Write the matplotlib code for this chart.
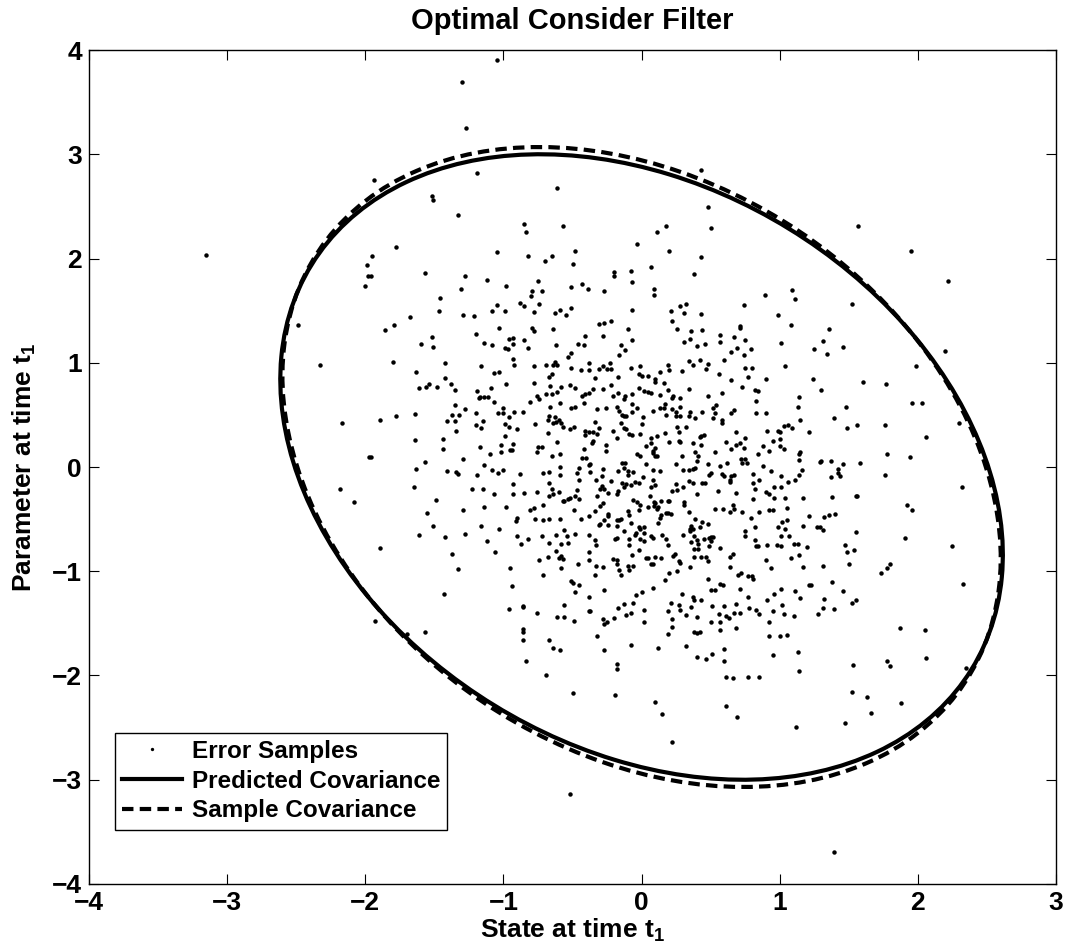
import numpy as np
import matplotlib.pyplot as plt
from matplotlib.patches import Ellipse
from matplotlib.lines import Line2D

plt.rcParams['font.family'] = ['Liberation Sans', 'DejaVu Sans']
plt.rcParams['font.weight'] = 'bold'
plt.rcParams['mathtext.fontset'] = 'custom'
plt.rcParams['mathtext.rm'] = 'Liberation Sans:bold'
plt.rcParams['mathtext.bf'] = 'Liberation Sans:bold'
plt.rcParams['mathtext.it'] = 'Liberation Sans:bold'
plt.rcParams['mathtext.default'] = 'bf'

# error samples (state, parameter)
samples_upper = [
    [-3.15, 2.03], [-1.99, 1.94], [-1.98, 1.83], [-2.00, 1.74], [-2.49, 1.36],
    [-1.05, 3.90], [-1.30, 3.69], [-1.27, 3.25], [-1.19, 2.82], [-1.94, 2.75], [-1.52, 2.60],
    [-1.51, 2.56], [-0.61, 2.68], [-1.33, 2.42], [-0.85, 2.33], [-0.84, 2.25], [-0.57, 2.31],
    [-1.78, 2.11], [-1.95, 2.02], [-1.05, 2.06], [-0.82, 2.02], [-0.48, 2.07], [-0.65, 2.02],
    [-0.70, 1.98], [-0.50, 1.95], [-1.96, 1.83], [-1.57, 1.86], [-1.28, 1.83], [-1.12, 1.79],
    [-1.31, 1.71], [-0.98, 1.74], [-0.75, 1.78], [-0.79, 1.69], [-0.72, 1.69], [-0.80, 1.64],
    [-0.51, 1.73], [-0.43, 1.76], [-0.39, 1.71], [-1.46, 1.62], [-1.47, 1.50], [-1.68, 1.44],
    [-1.79, 1.36], [-1.29, 1.46], [-1.21, 1.45], [-1.05, 1.55], [-1.08, 1.50], [-0.99, 1.50],
    [-0.88, 1.57], [-0.85, 1.54], [-0.74, 1.56], [-0.78, 1.49], [-0.63, 1.48], [-0.59, 1.51],
    [-0.55, 1.46], [-0.51, 1.53],
    [0.43, 2.85], [0.48, 2.49], [0.50, 2.29], [0.18, 2.31], [0.11, 2.25], [-0.03, 2.14],
    [0.20, 2.07], [0.43, 2.01], [0.07, 1.92], [-0.08, 1.88], [-0.20, 1.87], [-0.20, 1.83],
    [-0.07, 1.77], [0.38, 1.85], [-0.27, 1.69], [0.09, 1.71], [0.09, 1.65], [0.89, 1.65],
    [1.09, 1.70], [1.11, 1.61], [0.74, 1.55], [-0.07, 1.51], [0.21, 1.50], [0.28, 1.54],
    [0.32, 1.56], [0.31, 1.48], [0.43, 1.47], [0.99, 1.46], [0.22, 1.40], [-0.31, 1.37],
    [-0.27, 1.38], [-0.22, 1.40], [0.71, 1.35], [1.08, 1.36],
    [1.57, 2.31], [1.95, 2.07], [2.22, 1.78], [1.52, 1.56],
]

samples_mid_left = [
    [-2.33, 0.98], [-2.17, 0.42], [-1.97, 0.10], [-2.18, -0.21], [-2.08, -0.34],
    [-1.86, 1.31], [-1.52, 1.25], [-1.51, 1.15], [-1.60, 1.18], [-1.20, 1.28], [-1.03, 1.33],
    [-1.14, 1.19], [-1.08, 1.17], [-0.96, 1.23], [-0.93, 1.24], [-0.93, 1.18], [-0.99, 1.14],
    [-0.97, 1.13], [-0.85, 1.22], [-0.82, 1.14], [-0.79, 1.33], [-0.78, 1.30], [-0.64, 1.32],
    [-0.62, 1.17], [-0.46, 1.18], [-0.41, 1.26], [-0.42, 1.17],
    [-1.80, 1.01], [-1.42, 1.00], [-1.63, 0.91], [-1.16, 0.97], [-1.07, 0.90], [-1.03, 0.91],
    [-0.93, 1.04], [-0.92, 0.98], [-0.78, 0.97], [-0.69, 0.98], [-0.64, 0.98], [-0.63, 1.01],
    [-0.61, 0.98], [-0.53, 1.06], [-0.51, 1.09], [-0.51, 0.95], [-0.44, 0.93], [-0.38, 1.00],
    [-0.38, 0.93], [-0.65, 0.89], [-0.67, 0.86],
    [-1.42, 0.85], [-1.61, 0.76], [-1.56, 0.77], [-1.54, 0.80], [-1.48, 0.77], [-1.38, 0.80],
    [-1.35, 0.74], [-1.09, 0.76], [-0.98, 0.80], [-0.78, 0.81], [-0.66, 0.78], [-0.58, 0.77],
    [-0.52, 0.79], [-0.48, 0.76], [-1.19, 0.73], [-1.17, 0.67], [-1.18, 0.66], [-1.14, 0.67],
    [-1.11, 0.67], [-1.07, 0.62], [-0.76, 0.68], [-0.74, 0.65], [-0.69, 0.70], [-0.65, 0.70],
    [-0.61, 0.72], [-0.43, 0.68], [-0.41, 0.70], [-0.38, 0.71],
    [-1.35, 0.59], [-1.28, 0.56], [-0.81, 0.62], [-0.59, 0.61], [-0.66, 0.58], [-0.51, 0.57],
    [-0.48, 0.58], [-0.42, 0.61], [-1.00, 0.57], [-1.89, 0.45], [-1.78, 0.49], [-1.64, 0.51],
    [-1.41, 0.44], [-1.37, 0.50], [-1.32, 0.50], [-1.35, 0.44], [-1.20, 0.52], [-1.20, 0.40],
    [-1.16, 0.37], [-1.15, 0.44], [-1.04, 0.52], [-1.00, 0.52], [-0.96, 0.48], [-0.92, 0.53],
    [-0.86, 0.53], [-0.99, 0.41], [-0.96, 0.38], [-0.90, 0.36], [-0.77, 0.41], [-0.68, 0.45],
    [-0.67, 0.49], [-0.63, 0.48], [-0.60, 0.45], [-0.64, 0.42], [-0.62, 0.43], [-0.58, 0.42],
    [-0.57, 0.38], [-0.52, 0.36], [-0.49, 0.38], [-0.41, 0.35], [-0.41, 0.31], [-0.38, 0.34],
    [-1.34, 0.35], [-0.68, 0.33],
    [-1.96, 0.10], [-1.64, 0.26], [-1.44, 0.27], [-1.44, 0.17], [-0.99, 0.30], [-1.17, 0.19],
    [-1.10, 0.12], [-1.02, 0.14], [-1.02, 0.21], [-0.95, 0.16], [-0.93, 0.22], [-0.94, 0.16],
    [-0.76, 0.14], [-0.75, 0.19], [-0.72, 0.19], [-0.61, 0.24], [-0.65, 0.11], [-0.59, 0.12],
    [-0.43, 0.09], [-0.40, 0.09], [-0.42, 0.17], [-1.29, 0.08], [-1.57, 0.05], [-1.63, -0.02],
    [-0.38, 0.02],
    [-1.41, -0.04], [-1.34, -0.05], [-1.33, -0.07], [-1.19, -0.08], [-1.14, 0.02], [-1.08, -0.03],
    [-1.04, -0.06], [-1.00, -0.03], [-0.88, -0.07], [-0.71, -0.06], [-0.67, -0.05], [-0.59, 0.00],
    [-0.59, -0.08], [-0.47, -0.06], [-0.45, -0.01], [-0.45, -0.12], [-1.65, -0.19], [-1.23, -0.21],
    [-1.15, -0.21], [-0.93, -0.16], [-1.07, -0.26], [-0.93, -0.26], [-0.85, -0.25], [-0.76, -0.24],
    [-0.67, -0.15], [-0.65, -0.21], [-0.64, -0.26], [-0.67, -0.28], [-0.60, -0.24], [-0.47, -0.22],
    [-0.57, -0.33], [-0.56, -0.33], [-0.53, -0.31], [-0.52, -0.30], [-0.48, -0.28], [-0.45, -0.31],
    [-1.49, -0.32],
    [-1.55, -0.44], [-1.29, -0.41], [-1.14, -0.38], [-0.98, -0.38], [-0.81, -0.41], [-0.78, -0.39],
    [-0.71, -0.36], [-0.49, -0.41], [-0.90, -0.49], [-0.91, -0.52], [-0.77, -0.50], [-0.71, -0.51],
    [-0.67, -0.50], [-0.59, -0.50], [-0.44, -0.50], [-0.38, -0.47], [-1.51, -0.57], [-1.61, -0.65],
    [-1.42, -0.67], [-1.28, -0.64], [-1.16, -0.57], [-1.03, -0.59], [-1.12, -0.71], [-0.90, -0.66],
    [-0.82, -0.69], [-0.87, -0.74], [-0.72, -0.66], [-0.67, -0.73], [-0.62, -0.65], [-0.56, -0.60],
    [-0.54, -0.66], [-0.58, -0.74], [-0.53, -0.73], [-0.48, -0.64], [-0.38, -0.65],
    [-1.89, -0.78], [-1.37, -0.83], [-1.06, -0.82], [-0.62, -0.81], [-0.60, -0.87], [-0.58, -0.85],
    [-0.57, -0.88], [-0.68, -0.86], [-0.74, -0.89], [-0.38, -0.82], [-0.38, -0.89], [-1.33, -0.98],
    [-0.95, -0.97], [-0.71, -1.04], [-0.58, -0.97], [-0.46, -0.93], [-0.94, -1.14], [-0.51, -1.09],
    [-0.50, -1.11], [-0.45, -1.13], [-0.48, -1.20], [-1.43, -1.22], [-0.56, -1.32], [-0.38, -1.25],
    [-0.86, -1.33],
]

samples_mid_right = [
    [-0.28, 1.26], [-0.10, 1.32], [-0.07, 1.22], [-0.15, 1.17], [-0.12, 1.12], [-0.16, 1.07],
    [0.26, 1.32], [0.36, 1.30], [0.35, 1.23], [0.31, 1.20], [0.40, 1.16], [0.44, 1.31],
    [0.46, 1.18], [0.57, 1.27], [0.57, 1.20], [0.67, 1.25], [0.71, 1.33], [0.75, 1.22],
    [0.69, 1.14], [0.65, 1.10], [0.74, 1.07], [0.79, 1.13], [1.01, 1.19], [0.60, 1.03],
    [0.42, 1.03], [0.34, 1.02], [0.37, 0.98],
    [-0.31, 0.94], [-0.28, 0.97], [-0.25, 0.94], [-0.23, 1.00], [-0.22, 0.94], [-0.34, 0.85],
    [-0.35, 0.75], [-0.28, 0.75], [-0.22, 0.79], [-0.17, 0.86], [-0.08, 0.95], [-0.01, 0.97],
    [-0.02, 0.89], [0.00, 0.87], [0.05, 0.87], [0.10, 0.82], [0.10, 0.84], [0.13, 0.91],
    [0.16, 0.81], [0.19, 0.98], [0.20, 0.93], [0.29, 0.92], [0.47, 0.94], [0.48, 0.99],
    [0.56, 0.89], [0.65, 0.83], [0.75, 0.95], [0.80, 0.95], [0.77, 0.86], [0.90, 0.84],
    [1.04, 0.97], [0.73, 0.77], [0.82, 0.74], [0.84, 0.73], [0.34, 0.75], [0.19, 0.74],
    [-0.02, 0.76], [0.02, 0.73], [0.05, 0.72], [0.07, 0.71], [-0.07, 0.70], [-0.12, 0.68],
    [-0.21, 0.68], [-0.17, 0.71], [-0.13, 0.65], [0.13, 0.69],
    [0.22, 0.66], [0.23, 0.68], [0.28, 0.66], [0.48, 0.68], [0.58, 0.71], [0.83, 0.63],
    [1.14, 0.67], [1.13, 0.58], [0.83, 0.52], [0.90, 0.52], [1.15, 0.45], [-0.32, 0.56],
    [-0.26, 0.57], [-0.18, 0.58], [-0.16, 0.54], [-0.07, 0.60], [-0.07, 0.53], [-0.03, 0.57],
    [0.08, 0.54], [0.13, 0.57], [0.17, 0.60], [0.16, 0.57], [0.22, 0.56], [0.28, 0.58],
    [0.28, 0.49], [0.25, 0.49], [0.25, 0.53], [0.34, 0.49], [0.35, 0.53], [0.39, 0.47],
    [0.44, 0.53], [0.52, 0.57], [0.54, 0.59], [0.53, 0.52], [0.52, 0.47], [0.58, 0.45],
    [0.58, 0.42], [0.65, 0.52], [0.67, 0.55], [-0.14, 0.50], [-0.13, 0.49], [-0.11, 0.49],
    [0.01, 0.48], [0.18, 0.50], [-0.34, 0.43], [-0.35, 0.34], [-0.31, 0.37], [-0.32, 0.32],
    [-0.15, 0.42], [-0.13, 0.37], [-0.11, 0.36], [0.00, 0.41], [-0.21, 0.35], [-0.09, 0.32],
    [-0.07, 0.31], [-0.01, 0.32], [0.26, 0.38], [0.27, 0.34], [0.32, 0.38], [0.17, 0.33],
    [0.11, 0.30], [0.68, 0.34], [0.91, 0.35], [0.99, 0.35], [1.00, 0.34], [1.03, 0.39],
    [1.06, 0.40], [1.09, 0.37], [1.21, 0.34], [-0.35, 0.25], [-0.36, 0.23],
    [-0.18, 0.28], [0.07, 0.28], [0.20, 0.24], [0.27, 0.25], [0.28, 0.24], [0.37, 0.23],
    [0.42, 0.29], [0.43, 0.30], [0.45, 0.31], [0.43, 0.21], [0.61, 0.24], [0.75, 0.28],
    [0.68, 0.21], [0.71, 0.23], [0.74, 0.18], [0.88, 0.20], [0.95, 0.25], [1.00, 0.27],
    [1.00, 0.20], [1.03, 0.17], [1.15, 0.14], [1.14, 0.12], [1.14, 0.07], [-0.26, 0.21],
    [-0.26, 0.15], [0.03, 0.20], [0.07, 0.23], [0.08, 0.15], [0.10, 0.18], [0.10, 0.11],
    [0.11, 0.11], [0.08, 0.13], [-0.03, 0.12], [-0.01, 0.11], [0.29, 0.11], [0.39, 0.14],
    [0.41, 0.11], [0.40, 0.06], [0.53, 0.14], [0.65, 0.17], [0.72, 0.08], [0.73, 0.04],
    [0.75, 0.08], [0.76, 0.04], [0.84, 0.12], [0.92, 0.15], [0.88, 0.01], [0.62, 0.04],
    [0.03, 0.03], [-0.14, 0.04], [-0.12, 0.04], [-0.37, 0.03], [0.25, 0.03], [0.48, 0.03],
    [-0.37, -0.05], [-0.33, -0.12], [-0.28, -0.02], [-0.29, -0.09], [-0.17, -0.04], [-0.13, -0.01],
    [-0.10, -0.04], [-0.06, -0.05], [-0.10, -0.08], [-0.22, -0.13], [-0.14, -0.15], [-0.11, -0.16],
    [-0.08, -0.17], [-0.05, -0.14], [-0.02, -0.15], [0.01, -0.10], [0.08, -0.03], [0.13, -0.04],
    [0.08, -0.12], [0.10, -0.17], [0.07, -0.19], [-0.29, -0.18], [-0.27, -0.21], [-0.30, -0.21],
    [-0.24, -0.25], [-0.17, -0.23], [-0.13, -0.19], [-0.18, -0.26], [-0.32, -0.28], [0.25, -0.16],
    [0.22, -0.23], [0.26, -0.22], [0.30, -0.03], [0.34, -0.03], [0.37, -0.02], [0.34, -0.13],
    [0.37, -0.15], [0.39, -0.01], [0.44, -0.15], [0.46, -0.15], [0.49, -0.08], [0.50, -0.06],
    [0.57, 0.01], [0.58, -0.07], [0.60, -0.09], [0.64, -0.12], [0.65, -0.09], [0.67, -0.08],
    [0.64, -0.14], [0.55, -0.23], [0.68, -0.25], [0.40, -0.26], [0.30, -0.19], [0.81, -0.07],
    [0.85, -0.12], [0.81, -0.15], [0.82, -0.21], [0.94, -0.04], [1.01, -0.09], [1.06, -0.14],
    [1.11, -0.12], [1.16, -0.03], [1.14, -0.08], [0.90, -0.24], [0.96, -0.19], [1.01, -0.19],
    [0.92, -0.26], [0.96, -0.30], [1.04, -0.30], [1.17, -0.30], [0.81, -0.31],
    [-0.28, -0.35], [-0.30, -0.37], [-0.34, -0.42], [-0.06, -0.32], [-0.03, -0.34], [-0.01, -0.36],
    [-0.10, -0.42], [-0.02, -0.41], [0.05, -0.38], [0.06, -0.28], [0.09, -0.34], [0.10, -0.35],
    [0.09, -0.37], [0.12, -0.38], [0.11, -0.40], [0.14, -0.33], [0.19, -0.33], [0.20, -0.33],
    [0.14, -0.46], [0.13, -0.49], [0.18, -0.44], [0.21, -0.45], [0.19, -0.44], [0.31, -0.34],
    [0.31, -0.36], [0.34, -0.43], [0.39, -0.50], [-0.24, -0.45], [-0.24, -0.47], [-0.27, -0.51],
    [-0.18, -0.51], [-0.16, -0.51], [-0.15, -0.50], [-0.09, -0.46], [-0.31, -0.56], [-0.30, -0.55],
    [-0.24, -0.56], [-0.18, -0.57], [-0.08, -0.54], [-0.13, -0.61], [0.12, -0.54], [0.53, -0.40],
    [0.59, -0.40], [0.64, -0.43], [0.66, -0.36], [0.67, -0.40], [0.73, -0.43], [0.79, -0.49],
    [0.82, -0.58], [0.85, -0.43], [0.92, -0.41], [0.95, -0.41], [1.05, -0.39], [1.02, -0.53],
    [1.05, -0.51], [1.04, -0.59], [0.99, -0.58], [1.17, -0.57], [1.21, -0.47], [0.44, -0.53],
    [0.48, -0.55], [0.36, -0.57], [0.35, -0.61], [0.37, -0.59], [0.42, -0.58], [0.75, -0.61],
    [-0.34, -0.70], [-0.33, -0.75], [-0.18, -0.68], [-0.19, -0.69], [-0.09, -0.69], [-0.05, -0.65],
    [-0.04, -0.63], [-0.02, -0.58], [-0.01, -0.59], [0.02, -0.58], [-0.01, -0.69], [0.02, -0.63],
    [0.02, -0.71], [0.07, -0.66], [0.08, -0.68], [-0.09, -0.75], [-0.02, -0.80], [-0.07, -0.84],
    [-0.21, -0.88], [-0.18, -0.89], [-0.18, -0.93], [0.15, -0.65], [0.18, -0.69], [0.19, -0.75],
    [0.03, -0.87], [0.05, -0.87], [0.10, -0.86], [0.08, -0.93], [0.14, -0.87], [0.23, -0.85],
    [0.24, -0.83], [0.27, -0.90], [0.28, -0.92], [0.30, -0.65], [0.35, -0.59], [0.38, -0.66],
    [0.40, -0.70], [0.36, -0.72], [0.41, -0.74], [0.45, -0.69], [0.49, -0.68], [0.50, -0.67],
    [0.52, -0.67], [0.50, -0.71], [0.49, -0.76], [0.38, -0.79], [0.41, -0.79], [0.38, -0.86],
    [0.43, -0.86], [0.47, -0.86], [0.48, -0.90], [0.57, -0.78], [0.66, -0.83], [0.64, -0.86],
    [0.75, -0.66], [0.82, -0.70], [0.83, -0.76], [0.84, -0.76], [0.91, -0.75], [0.98, -0.75],
    [1.01, -0.76], [1.01, -0.66], [1.07, -0.66], [1.10, -0.74], [1.13, -0.74], [1.20, -0.77],
    [1.14, -0.84], [1.08, -0.87], [0.90, -0.89], [0.94, -0.97], [1.17, -0.96], [-0.33, -0.95],
    [-0.28, -0.96], [-0.16, -0.99], [-0.15, -1.04], [-0.10, -0.95], [-0.09, -0.99], [-0.06, -0.95],
    [0.07, -0.93], [0.35, -0.96],
    [-0.34, -1.04], [-0.27, -1.18], [0.20, -1.02], [0.26, -1.00], [0.17, -1.08], [0.08, -1.16],
    [0.00, -1.20], [-0.04, -1.23], [-0.06, -1.30], [-0.13, -1.31], [0.29, -1.22], [0.21, -1.30],
    [0.27, -1.32], [0.37, -1.25], [0.38, -1.28], [0.43, -1.28], [0.48, -1.07], [0.50, -1.18],
    [0.53, -1.18], [0.57, -1.12], [0.59, -1.13], [0.64, -0.96], [0.71, -1.17], [0.70, -1.04],
    [0.72, -1.02], [0.77, -1.05], [0.80, -1.05], [0.81, -1.07], [0.77, -1.25], [0.91, -1.28],
    [0.96, -1.22], [1.01, -1.17], [1.11, -1.19], [1.15, -1.26], [1.21, -1.13], [1.02, -1.32],
    [0.68, -1.31], [0.60, -1.33], [0.51, -1.33],
    [1.36, 1.32], [1.31, 1.21], [1.25, 1.13], [1.34, 1.08], [1.46, 1.15], [2.20, 1.11],
    [1.99, 0.97], [1.24, 0.84], [1.30, 0.74], [1.60, 0.82], [1.77, 0.80], [1.96, 0.61],
    [2.03, 0.61], [1.48, 0.58], [1.39, 0.47], [1.49, 0.37], [1.56, 0.40], [1.76, 0.40],
    [2.30, 0.42], [2.06, 0.29], [1.78, 0.12], [1.94, 0.10], [1.30, 0.06], [1.29, 0.05],
    [1.37, 0.06], [1.46, 0.03], [1.42, -0.02], [1.42, -0.06], [1.37, -0.10], [1.44, -0.09],
    [1.58, 0.04], [1.76, -0.08], [2.32, -0.19], [1.38, -0.29], [1.55, -0.28], [1.56, -0.28],
    [1.92, -0.36], [1.96, -0.41], [1.32, -0.48], [1.36, -0.46], [1.40, -0.45], [1.27, -0.58],
    [1.29, -0.58], [1.31, -0.60], [1.55, -0.62], [1.91, -0.68], [2.25, -0.76], [1.47, -0.75],
    [1.49, -0.82], [1.54, -0.80], [1.50, -0.93], [1.31, -0.95], [1.80, -0.93], [1.78, -0.97],
    [1.73, -1.02], [1.38, -1.10], [1.23, -1.13], [2.33, -1.12], [1.46, -1.19], [1.32, -1.27],
    [1.52, -1.30], [1.55, -1.28],
]

samples_lower = [
    [-1.93, -1.48], [-1.70, -1.60], [-1.57, -1.58], [-0.96, -1.36], [-0.86, -1.34], [-0.76, -1.40],
    [-0.61, -1.44], [-0.56, -1.44], [-0.49, -1.48], [-0.38, -1.38], [-0.86, -1.55], [-0.86, -1.58],
    [-0.86, -1.66], [-0.67, -1.66], [-0.64, -1.74], [-0.59, -1.76], [-0.84, -1.86], [-0.69, -2.00],
    [-0.50, -2.17], [-0.52, -3.14],
    [-0.37, -1.38], [-0.28, -1.46], [-0.27, -1.51], [-0.25, -1.49], [-0.20, -1.45], [-0.17, -1.35],
    [-0.11, -1.42], [-0.08, -1.40], [0.02, -1.37], [0.02, -1.49], [-0.32, -1.62], [-0.27, -1.76],
    [-0.08, -1.71], [-0.18, -1.89], [-0.18, -1.94], [-0.19, -2.19], [0.12, -1.74], [0.19, -1.38],
    [0.22, -1.46], [0.22, -1.53], [0.19, -1.60], [0.28, -1.37], [0.32, -1.42], [0.36, -1.34],
    [0.40, -1.44], [0.38, -1.58], [0.40, -1.59], [0.42, -1.58], [0.32, -1.72], [0.40, -1.82],
    [0.47, -1.84], [0.51, -1.79], [0.50, -1.49], [0.56, -1.41], [0.57, -1.49], [0.57, -1.56],
    [0.61, -1.43], [0.63, -1.45], [0.67, -1.40], [0.71, -1.40], [0.68, -1.54], [0.60, -1.75],
    [0.60, -1.86], [0.61, -2.01], [0.66, -2.02], [0.77, -2.01], [0.85, -2.01], [0.78, -1.35],
    [0.83, -1.37], [0.85, -1.41], [0.95, -1.38], [1.03, -1.41], [1.10, -1.43], [0.92, -1.49],
    [0.92, -1.62], [1.00, -1.62], [1.05, -1.61], [0.95, -1.80], [1.13, -1.77], [1.14, -1.96],
    [0.10, -2.25], [0.15, -2.37], [0.61, -2.29], [0.69, -2.40], [1.12, -2.49], [0.22, -2.64],
    [1.28, -1.41], [1.31, -1.35], [1.39, -1.36], [1.87, -1.54], [2.05, -1.56], [2.06, -1.83],
    [1.53, -1.90], [1.78, -1.86], [1.80, -1.91], [2.35, -1.93], [1.52, -2.16], [1.63, -2.21],
    [1.88, -2.26], [1.66, -2.36], [1.47, -2.46], [1.39, -3.69],
]

# 3-sigma covariance bounds (centred at the origin)
center = (0.0, 0.0)
pred_cov = np.array([[6.84, -2.20], [-2.20, 9.00]])
samp_cov = np.array([[6.76, -2.27], [-2.27, 9.42]])

samples = np.array(samples_upper + samples_mid_left + samples_mid_right + samples_lower)

DASH = (0, (2.75, 1.5))


def cov_ellipse(cov, **kw):
    vals, vecs = np.linalg.eigh(cov)
    ang = np.degrees(np.arctan2(vecs[1, 1], vecs[0, 1]))
    return Ellipse(center, 2 * np.sqrt(vals[1]), 2 * np.sqrt(vals[0]), angle=ang,
                   fill=False, edgecolor='k', **kw)


fig = plt.figure(figsize=(10.70, 9.49), dpi=100)
ax = fig.add_axes([0.0832, 0.0685, 0.9037, 0.8788])

ax.plot(samples[:, 0], samples[:, 1], linestyle='none', marker='o', ms=3.2,
        mew=0, color='k', zorder=2)
ax.add_patch(cov_ellipse(pred_cov, lw=3, zorder=3))
ax.add_patch(cov_ellipse(samp_cov, lw=3, linestyle=DASH, zorder=3))

ax.set_xlim(-4, 3)
ax.set_ylim(-4, 4)
ax.set_xticks(range(-4, 4))
ax.set_yticks(range(-4, 5))
ax.tick_params(direction='in', top=True, right=True, length=7, width=0.8,
               labelsize=19, pad=5)
for s in ax.spines.values():
    s.set_linewidth(1.0)

ax.set_title('Optimal Consider Filter', fontsize=21, fontweight='bold', pad=15)
ax.set_xlabel(r'State at time t$_1$', fontsize=19, fontweight='bold', labelpad=1)
ax.set_ylabel(r'Parameter at time t$_1$', fontsize=19, fontweight='bold', labelpad=10)

handles = [
    Line2D([], [], linestyle='none', marker='o', ms=2.4, mew=0, color='k'),
    Line2D([], [], color='k', lw=3),
    Line2D([], [], color='k', lw=3, linestyle=DASH),
]
labels = ['Error Samples', 'Predicted Covariance', 'Sample Covariance']
leg = ax.legend(handles, labels, loc='lower left', bbox_to_anchor=(0.027, 0.065),
                borderaxespad=0, fancybox=False, edgecolor='k', framealpha=1,
                fontsize=17.5, handlelength=2.45, handletextpad=0.4,
                labelspacing=0.28, borderpad=0.3)
leg.get_frame().set_linewidth(1.0)

fig.savefig('out.png', dpi=100)
